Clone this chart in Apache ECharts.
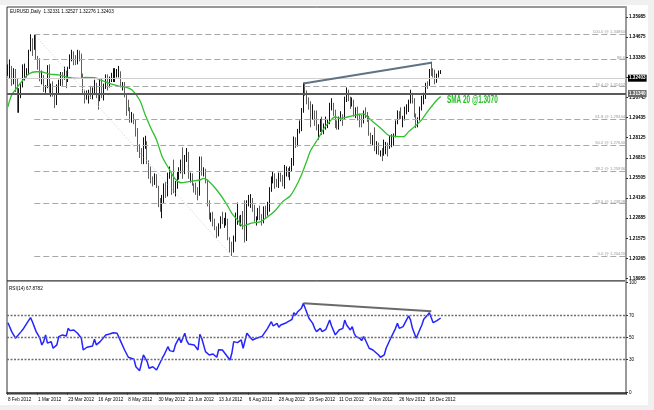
<!DOCTYPE html>
<html><head><meta charset="utf-8">
<script src="https://cdn.jsdelivr.net/npm/echarts@6/dist/echarts.min.js"></script>
<style>html,body{margin:0;padding:0;background:#f0f0f0}#c{width:654px;height:410px}</style>
</head><body><div id="c"></div>
<script>
const _ = null;
// x-axis date labels (one every 16 daily bars)
const tickLabels = ['8 Feb 2012','1 Mar 2012','23 Mar 2012','16 Apr 2012','8 May 2012','30 May 2012','21 Jun 2012','13 Jul 2012','6 Aug 2012','28 Aug 2012','19 Sep 2012','11 Oct 2012','2 Nov 2012','26 Nov 2012','18 Dec 2012'];
const priceTicks = [1.18955,1.20265,1.21575,1.22885,1.24195,1.25505,1.26815,1.28125,1.29435,1.30745,1.32055,1.33365,1.34675,1.35985];
const rsiTicks = [0,30,50,70,100];

const opens = [
1.3240,1.3270,1.3275,1.3195,1.3245,1.3140,1.3000,1.3125,1.3145,1.3240,
1.3240,1.3245,1.3380,1.3450,1.3420,1.3465,1.3325,1.3320,1.3200,1.3215,
1.3130,1.3140,1.3275,1.3120,1.3140,1.3090,1.3050,1.3155,1.3175,1.3230,
1.3215,1.3240,1.3195,1.3270,1.3340,1.3365,1.3320,1.3300,1.3340,1.3330,
1.3225,1.3105,1.3065,1.3095,1.3110,1.3090,1.3130,1.3160,1.3075,1.3070,
1.3185,1.3080,1.3140,1.3220,1.3160,1.3195,1.3215,1.3230,1.3235,1.3235,
1.3240,1.3150,1.3160,1.3080,1.3050,1.3005,1.2945,1.2955,1.2915,1.2840,
1.2730,1.2715,1.2665,1.2780,1.2780,1.2650,1.2580,1.2525,1.2515,1.2565,
1.2495,1.2375,1.2370,1.2415,1.2505,1.2450,1.2560,1.2570,1.2515,1.2480,
1.2510,1.2565,1.2605,1.2640,1.2585,1.2680,1.2705,1.2560,1.2570,1.2505,
1.2495,1.2470,1.2440,1.2665,1.2580,1.2605,1.2525,1.2385,1.2290,1.2290,
1.2255,1.2220,1.2200,1.2240,1.2290,1.2270,1.2270,1.2280,1.2155,1.2115,
1.2070,1.2165,1.2290,1.2290,1.2265,1.2300,1.2230,1.2165,1.2385,1.2400,
1.2410,1.2370,1.2285,1.2285,1.2335,1.2285,1.2275,1.2350,1.2330,1.2340,
1.2485,1.2555,1.2570,1.2515,1.2505,1.2570,1.2525,1.2505,1.2575,1.2605,
1.2570,1.2610,1.2635,1.2815,1.2760,1.2860,1.2895,1.3000,1.3125,1.3115,
1.3050,1.3045,1.2970,1.2980,1.2935,1.2870,1.2870,1.2915,1.2860,1.2890,
1.2895,1.2905,1.3030,1.3035,1.2965,1.2875,1.2870,1.2935,1.2955,1.2950,
1.3055,1.3120,1.3060,1.3025,1.3045,1.2980,1.2985,1.2945,1.2940,1.2915,
1.2975,1.2965,1.2945,1.2835,1.2790,1.2815,1.2765,1.2770,1.2710,1.2715,
1.2710,1.2735,1.2770,1.2745,1.2810,1.2810,1.2825,1.2915,1.2975,1.2970,
1.2945,1.2945,1.2985,1.2985,1.3050,1.3085,1.3065,1.2955,1.2925,1.2935,
1.3010,1.3070,1.3085,1.3165,1.3160,1.3255,1.3235,1.3225,1.3180,1.3220,
1.32331];
const highs = [
1.3290,1.3322,1.3280,1.3265,1.3260,1.3200,1.3135,1.3170,1.3290,1.3295,
1.3265,1.3385,1.3486,1.3460,1.3485,1.3487,1.3345,1.3330,1.3250,1.3220,
1.3155,1.3285,1.3290,1.3165,1.3180,1.3095,1.3160,1.3190,1.3240,1.3240,
1.3275,1.3250,1.3275,1.3355,1.3385,1.3375,1.3350,1.3385,1.3380,1.3360,
1.3230,1.3125,1.3120,1.3125,1.3150,1.3140,1.3190,1.3170,1.3100,1.3195,
1.3195,1.3165,1.3225,1.3225,1.3210,1.3235,1.3265,1.3265,1.3260,1.3280,
1.3245,1.3175,1.3175,1.3090,1.3060,1.3010,1.2980,1.2970,1.2930,1.2875,
1.2770,1.2745,1.2815,1.2825,1.2790,1.2665,1.2625,1.2560,1.2580,1.2575,
1.2500,1.2420,1.2440,1.2515,1.2525,1.2585,1.2625,1.2575,1.2670,1.2530,
1.2590,1.2620,1.2670,1.2750,1.2700,1.2745,1.2720,1.2585,1.2580,1.2515,
1.2520,1.2490,1.2690,1.2690,1.2620,1.2610,1.2540,1.2405,1.2325,1.2330,
1.2285,1.2235,1.2255,1.2300,1.2330,1.2290,1.2325,1.2285,1.2165,1.2135,
1.2175,1.2325,1.2390,1.2305,1.2310,1.2335,1.2405,1.2405,1.2440,1.2445,
1.2420,1.2375,1.2300,1.2355,1.2370,1.2315,1.2365,1.2370,1.2395,1.2490,
1.2560,1.2590,1.2580,1.2545,1.2585,1.2585,1.2570,1.2635,1.2625,1.2615,
1.2625,1.2680,1.2820,1.2815,1.2870,1.2925,1.3005,1.3170,1.3172,1.3120,
1.3075,1.3050,1.3030,1.2990,1.2990,1.2900,1.2935,1.2950,1.2905,1.2950,
1.2935,1.3040,1.3070,1.3040,1.2995,1.2925,1.2950,1.2985,1.2965,1.3080,
1.3140,1.3125,1.3080,1.3075,1.3060,1.3010,1.3015,1.2970,1.2960,1.2990,
1.3010,1.2980,1.2955,1.2845,1.2830,1.2880,1.2790,1.2780,1.2730,1.2745,
1.2800,1.2785,1.2780,1.2825,1.2835,1.2840,1.2925,1.2990,1.2985,1.3010,
1.2955,1.3015,1.3030,1.3060,1.3125,1.3105,1.3070,1.2970,1.2945,1.3015,
1.3085,1.3105,1.3170,1.3180,1.3260,1.3308,1.3265,1.3255,1.3230,1.3250,
1.32527];
const lows = [
1.3215,1.3200,1.3150,1.3160,1.3110,1.2975,1.2975,1.3070,1.3140,1.3185,
1.3205,1.3220,1.3375,1.3345,1.3385,1.3320,1.3255,1.3180,1.3160,1.3110,
1.3105,1.3135,1.3105,1.3080,1.3080,1.3005,1.3025,1.3100,1.3150,1.3150,
1.3190,1.3135,1.3175,1.3260,1.3310,1.3285,1.3285,1.3290,1.3310,1.3195,
1.3095,1.3035,1.3060,1.3035,1.3065,1.3060,1.3090,1.3070,1.2995,1.3050,
1.3070,1.3055,1.3130,1.3120,1.3140,1.3175,1.3175,1.3175,1.3205,1.3205,
1.3140,1.3120,1.3075,1.2955,1.2985,1.2910,1.2910,1.2900,1.2820,1.2720,
1.2680,1.2640,1.2640,1.2740,1.2640,1.2545,1.2515,1.2495,1.2505,1.2485,
1.2360,1.2330,1.2288,1.2385,1.2420,1.2430,1.2545,1.2440,1.2450,1.2430,
1.2480,1.2540,1.2580,1.2545,1.2575,1.2655,1.2545,1.2520,1.2500,1.2455,
1.2440,1.2405,1.2435,1.2565,1.2560,1.2515,1.2365,1.2280,1.2265,1.2235,
1.2210,1.2160,1.2170,1.2220,1.2250,1.2225,1.2240,1.2145,1.2065,1.2042,
1.2065,1.2135,1.2245,1.2240,1.2235,1.2215,1.2130,1.2140,1.2365,1.2355,
1.2330,1.2265,1.2240,1.2275,1.2275,1.2240,1.2255,1.2290,1.2305,1.2330,
1.2460,1.2515,1.2480,1.2490,1.2485,1.2525,1.2495,1.2480,1.2560,1.2555,
1.2535,1.2590,1.2630,1.2745,1.2755,1.2840,1.2855,1.2975,1.3085,1.3030,
1.2995,1.2880,1.2930,1.2890,1.2860,1.2800,1.2850,1.2830,1.2835,1.2865,
1.2875,1.2900,1.2990,1.2955,1.2875,1.2865,1.2865,1.2920,1.2890,1.2935,
1.3045,1.3050,1.3000,1.3015,1.2950,1.2940,1.2925,1.2880,1.2880,1.2905,
1.2940,1.2915,1.2825,1.2770,1.2765,1.2725,1.2705,1.2700,1.2690,1.2660,
1.2695,1.2705,1.2690,1.2740,1.2750,1.2760,1.2815,1.2900,1.2935,1.2935,
1.2880,1.2925,1.2965,1.2980,1.3035,1.3035,1.2945,1.2875,1.2880,1.2925,
1.2990,1.3030,1.3065,1.3130,1.3150,1.3215,1.3205,1.3160,1.3170,1.3205,
1.32276];
const closes = [
1.3270,1.3275,1.3195,1.3245,1.3140,1.3000,1.3125,1.3145,1.3240,1.3240,
1.3245,1.3380,1.3450,1.3420,1.3465,1.3325,1.3320,1.3200,1.3215,1.3130,
1.3140,1.3275,1.3120,1.3140,1.3090,1.3050,1.3155,1.3175,1.3230,1.3215,
1.3240,1.3195,1.3270,1.3340,1.3365,1.3320,1.3300,1.3340,1.3330,1.3225,
1.3105,1.3065,1.3095,1.3110,1.3090,1.3130,1.3160,1.3075,1.3070,1.3185,
1.3080,1.3140,1.3220,1.3160,1.3195,1.3215,1.3230,1.3235,1.3235,1.3240,
1.3150,1.3160,1.3080,1.3050,1.3005,1.2945,1.2955,1.2915,1.2840,1.2730,
1.2715,1.2665,1.2780,1.2780,1.2650,1.2580,1.2525,1.2515,1.2565,1.2495,
1.2375,1.2370,1.2415,1.2505,1.2450,1.2560,1.2570,1.2515,1.2480,1.2510,
1.2565,1.2605,1.2640,1.2585,1.2680,1.2705,1.2560,1.2570,1.2505,1.2495,
1.2470,1.2440,1.2665,1.2580,1.2605,1.2525,1.2385,1.2290,1.2290,1.2255,
1.2220,1.2200,1.2240,1.2290,1.2270,1.2270,1.2280,1.2155,1.2115,1.2070,
1.2165,1.2290,1.2290,1.2265,1.2300,1.2230,1.2165,1.2385,1.2400,1.2410,
1.2370,1.2285,1.2285,1.2335,1.2285,1.2275,1.2350,1.2330,1.2340,1.2485,
1.2555,1.2570,1.2515,1.2505,1.2570,1.2525,1.2505,1.2575,1.2605,1.2570,
1.2610,1.2635,1.2815,1.2760,1.2860,1.2895,1.3000,1.3125,1.3115,1.3050,
1.3045,1.2970,1.2980,1.2935,1.2870,1.2870,1.2915,1.2860,1.2890,1.2895,
1.2905,1.3030,1.3035,1.2965,1.2875,1.2870,1.2935,1.2955,1.2950,1.3055,
1.3120,1.3060,1.3025,1.3045,1.2980,1.2985,1.2945,1.2940,1.2915,1.2975,
1.2965,1.2945,1.2835,1.2790,1.2815,1.2765,1.2770,1.2710,1.2715,1.2710,
1.2735,1.2770,1.2745,1.2810,1.2810,1.2825,1.2915,1.2975,1.2970,1.2945,
1.2945,1.2985,1.2985,1.3050,1.3085,1.3065,1.2955,1.2925,1.2935,1.3010,
1.3070,1.3085,1.3165,1.3160,1.3255,1.3235,1.3225,1.3180,1.3220,1.3233,
1.32403];
// SMA(20) (gaps joined by the library)
const sma20 = [
1.3014,_,1.3091,_,_,1.3141,_,_,1.3188,_,
_,1.3227,_,_,_,1.3242,_,1.3242,_,_,
_,_,1.3227,_,_,_,_,1.3221,_,_,
_,_,1.3206,_,_,_,_,_,1.3199,_,
_,1.3206,_,_,_,_,1.3203,_,_,_,
1.3184,_,_,_,_,1.3162,_,_,_,1.3149,
_,_,_,1.3141,_,_,1.3123,_,_,_,
1.3058,_,_,1.2960,_,_,1.2874,_,_,1.2798,
_,_,1.2689,_,_,_,1.2602,_,_,1.2542,
_,_,1.2519,_,_,_,1.2526,_,_,_,
_,_,1.2537,_,1.2548,_,_,1.2526,_,_,
_,1.2472,_,_,_,_,1.2385,_,_,1.2320,
_,_,1.2277,_,_,1.2237,_,_,_,1.2255,
_,_,_,_,1.2265,_,_,1.2288,_,_,
_,_,1.2337,_,_,_,1.2396,_,_,_,
1.2433,_,_,1.2493,_,_,1.2570,_,_,1.2667,
_,1.2732,_,_,_,1.2809,_,_,1.2874,_,
_,1.2917,_,_,1.2949,_,1.2939,_,_,_,
_,1.2949,_,_,_,1.2960,_,_,_,1.2967,
_,1.2949,_,_,_,1.2906,_,_,_,1.2865,
_,_,_,1.2824,_,_,_,_,_,_,
1.2819,_,_,1.2852,_,_,_,_,_,1.2917,
_,_,_,1.2982,_,_,_,_,1.3058,_,
1.3080];
const rsi14 = [
63.6,63,55.5,55.5,49.5,51,_,55.5,57.6,57.6,
63,_,68.2,64.5,66,55.5,54,49.5,43.4,46.4,
52.5,45,_,46.4,40.4,_,43.4,51,_,52.5,
51,51.5,58.5,56.4,_,57,57.6,54,_,49.5,
38.8,_,41.3,40.4,_,42.5,48.5,43.4,_,46.4,
46.4,_,52.5,51,53.4,_,54.5,55.5,54,_,
46.4,_,38.8,_,32.2,30.4,_,30.4,23.6,_,
20,20.6,34.3,_,28.2,22.2,_,23.6,25.2,20.6,
19.1,_,31.3,34.3,_,41.8,38.2,_,37.3,43.4,
_,50,45.5,_,54,47.3,44.3,_,_,43.4,
_,38.8,53.1,49.5,49.5,37.3,_,34.3,_,35.2,
_,32.2,39,_,38.8,_,34.3,_,29.7,35.8,
46.4,47.9,45.5,_,47.9,40.4,_,54,54,_,
47.9,_,49.5,47.9,_,51,49.5,_,58.5,_,
64.5,60.6,_,63,59.5,61.5,60,_,63.6,63,
_,66.7,72.7,70.6,73.6,_,76.7,81.3,76.7,_,
67.6,_,63,58.5,55.5,_,58.5,55.5,57,57.6,
_,66,60.6,_,52.5,51,57,_,58.5,66,
61.5,_,57,60,54,51,_,49.5,47.3,51,
47.9,_,40.4,_,38.8,37.9,_,34.3,32.2,_,
34.3,40.4,38.8,47.9,49.5,_,58.5,63,58.5,_,
60,61.5,66.7,69.7,66,58.5,_,49.5,51,57.6,
61.5,66.7,66,70.6,72.7,74,63.6,_,65.5,_,
67.88];

const fibLevels = [1.20420,1.23828,1.25936,1.27640,1.29344,1.31452,1.33214,1.34860];
const fibNames = ['0.0 @ 1.20420','23.6 @ 1.23828','38.2 @ 1.25936','50.0 @ 1.27640','61.8 @ 1.29344','76.4 @ 1.31452','88.6','100.0 @ 1.34860'];
const fibStartBar = 14;
const fibDiagonal = [[14,1.3486],[119,1.2042]];
const horizLevel = 1.31340;
const bidLevel = 1.32403;
const priceTrend = [[157,1.3165],[225,1.3300]];
const rsiTrend = [[157,81.3],[225,74]];
const rsiLevels = [30,50,70];
const headerText = 'EURUSD,Daily  1.32331 1.32527 1.32276 1.32403';
const rsiText = 'RSI(14) 67.8782';
const smaText = 'SMA 20 @1.3070';
const totalSlots = 329;

const FONT = '"Liberation Sans", Arial, sans-serif';
const cats = Array.from({length: totalSlots}, (v, i) => (i % 16 === 0 && i / 16 < tickLabels.length) ? tickLabels[i / 16] : '');
const ohlc = opens.map((o, i) => [o, closes[i], lows[i], highs[i]]);

const fibMarks = fibLevels.map((lv, k) => [
  {name: fibNames[k], coord: [fibStartBar, lv],
   lineStyle: {type: [6, 3], color: '#a8a8a8', width: 1},
   label: {show: true, position: 'insideEndTop', formatter: '{b}', fontSize: 4.2, color: '#999', distance: 0, fontFamily: FONT}},
  {coord: [totalSlots - 1, lv]}
]);

const chart = echarts.init(document.getElementById('c'), null, {renderer: 'canvas'});
chart.setOption({
  animation: false,
  backgroundColor: '#f0f0f0',
  graphic: [
    {type: 'rect', z: -100, silent: true, shape: {x: 0, y: 5, width: 648, height: 400}, style: {fill: '#fff'}},
    {type: 'text', left: 10, top: 9, z: 100, style: {text: headerText, fontSize: 4.6, fontFamily: FONT, fill: '#000'}},
    {type: 'text', left: 9, top: 286, z: 100, style: {text: rsiText, fontSize: 4.6, fontFamily: FONT, fill: '#000'}},
    {type: 'text', left: 447, top: 95, z: 100, scaleX: 0.64, style: {text: smaText, fontSize: 10, fontWeight: 'bold', fontFamily: FONT, fill: '#22bb22'}}
  ],
  grid: [
    {left: 7, top: 7, width: 619, height: 274, show: true, backgroundColor: '#fff', borderColor: '#333', borderWidth: 1},
    {left: 7, top: 281, width: 619, height: 113, show: true, backgroundColor: '#fff', borderColor: '#333', borderWidth: 1}
  ],
  xAxis: [
    {type: 'category', gridIndex: 0, data: cats, show: false, boundaryGap: true},
    {type: 'category', gridIndex: 1, data: cats, boundaryGap: true,
     axisLine: {show: true, lineStyle: {color: '#222', width: 1.5}},
     axisTick: {show: true, length: 2, interval: (i) => cats[i] !== '', lineStyle: {color: '#333'}},
     axisLabel: {show: true, interval: 0, align: 'left', fontSize: 4.6, color: '#000', margin: 3, fontFamily: FONT},
     splitLine: {show: false}}
  ],
  yAxis: [
    {type: 'value', gridIndex: 0, position: 'right', min: 1.18792, max: 1.36637, scale: true,
     axisLine: {show: true, lineStyle: {color: '#9a9a9a', width: 2}},
     axisTick: {show: true, length: 2, customValues: priceTicks, lineStyle: {color: '#333'}},
     axisLabel: {show: true, customValues: priceTicks, formatter: (v) => v.toFixed(5), fontSize: 4.6, fontWeight: 'bold', color: '#000', margin: 3, fontFamily: FONT},
     splitLine: {show: false}},
    {type: 'value', gridIndex: 1, position: 'right', min: -1.2, max: 101.5,
     axisLine: {show: true, lineStyle: {color: '#9a9a9a', width: 2}},
     axisTick: {show: true, length: 2, customValues: rsiTicks, lineStyle: {color: '#333'}},
     axisLabel: {show: true, customValues: rsiTicks, fontSize: 4.6, color: '#000', margin: 3, fontFamily: FONT},
     splitLine: {show: false}}
  ],
  series: [
    {type: 'candlestick', xAxisIndex: 0, yAxisIndex: 0, data: ohlc, barWidth: 1.2,
     itemStyle: {color: '#111', color0: '#5e5e5e', borderColor: '#111', borderColor0: '#5e5e5e', borderWidth: 1},
     markLine: {silent: true, symbol: ['none', 'none'], animation: false,
      data: [
        ...fibMarks,
        [{coord: fibDiagonal[0], lineStyle: {type: [1, 2], color: '#c8cce0', width: 1}, label: {show: false}}, {coord: fibDiagonal[1]}],
        {yAxis: bidLevel, lineStyle: {type: 'solid', color: '#cfcfcf', width: 1},
         label: {show: true, position: 'end', distance: 2, formatter: bidLevel.toFixed(5), backgroundColor: '#000', color: '#fff', fontSize: 4.6, fontWeight: 'bold', padding: [1, 1], fontFamily: FONT}},
        {yAxis: horizLevel, lineStyle: {type: 'solid', color: '#5a5a5a', width: 2},
         label: {show: true, position: 'end', distance: 2, formatter: horizLevel.toFixed(5), backgroundColor: '#6a6a6a', color: '#fff', fontSize: 4.6, fontWeight: 'bold', padding: [1, 1], fontFamily: FONT}},
        [{coord: priceTrend[0], lineStyle: {type: 'solid', color: '#607284', width: 2}, label: {show: false}}, {coord: priceTrend[1]}]
      ]}},
    {type: 'line', xAxisIndex: 0, yAxisIndex: 0, data: sma20, connectNulls: true, smooth: 0.35, showSymbol: false, symbol: 'none',
     lineStyle: {color: '#2fbf2f', width: 1.3}, z: 3},
    {type: 'line', xAxisIndex: 1, yAxisIndex: 1, data: rsi14, connectNulls: true, showSymbol: false, symbol: 'none',
     lineStyle: {color: '#2424ff', width: 1.5}, z: 3,
     markLine: {silent: true, symbol: ['none', 'none'], animation: false,
      data: [
        ...rsiLevels.map(v => ({yAxis: v, lineStyle: {type: [2, 1.5], color: '#707070', width: 1.3}, label: {show: false}})),
        [{coord: rsiTrend[0], lineStyle: {type: 'solid', color: '#6a6a6a', width: 2}, label: {show: false}}, {coord: rsiTrend[1]}]
      ]}}
  ]
});
</script>
</body></html>
